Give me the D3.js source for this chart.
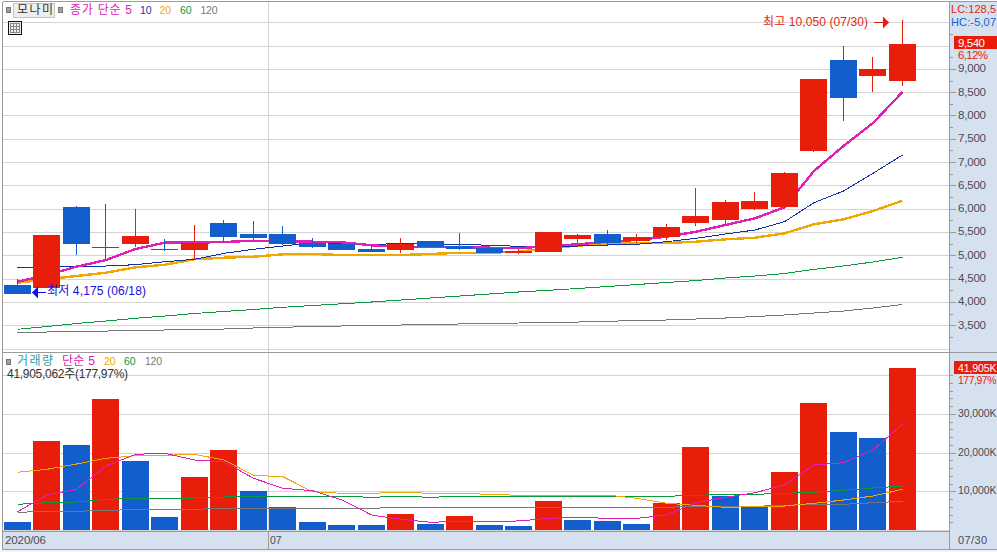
<!DOCTYPE html>
<html><head><meta charset="utf-8">
<script src="https://cdn.jsdelivr.net/npm/d3@7"></script>
<style>
html,body{margin:0;padding:0;background:#fff;overflow:hidden}
svg{display:block}
text{font-family:"Liberation Sans","Noto Sans CJK KR",sans-serif;font-size:12px}
</style></head><body><div id="c"></div>
<script>
const opens  =[4365,4310,6040,5175,5250,5130,5125,5695,5460,5460,5275,5250,5138,5116,5309,5208,5159,5052,5073,5352,5459,5309,5395,5695,5759,5995,6038,7239,9190,8847,8739];
const closes =[4175,5440,5250,5175,5415,5130,5265,5395,5375,5250,5185,5116,5073,5250,5180,5138,5052,5095,5502,5438,5266,5395,5609,5845,6145,6167,6767,8782,8375,8997,9540];
const highs  =[4495,5440,6060,6100,6000,5350,5650,5760,5740,5630,5375,5294,5223,5373,5309,5481,5223,5138,5502,5459,5545,5459,5674,6445,6188,6360,6788,8782,9490,9254,10050];
const lows   =[4175,4310,5015,4925,5190,5100,4900,5295,5330,5225,5160,5116,5073,5052,5180,5116,5052,5030,5073,5273,5223,5266,5331,5631,5652,5974,6017,7217,7888,8504,8632];
const ma5    =[4436,4580,4758,4902,5138,5273,5273,5288,5315,5309,5294,5281,5217,5180,5180,5180,5165,5153,5202,5238,5294,5331,5401,5508,5652,5796,6032,6810,7346,7839,8504];
const ma10   =[4745,4752,4758,4773,4801,4865,4917,5045,5131,5202,5273,5260,5230,5260,5238,5238,5217,5195,5174,5202,5223,5238,5294,5367,5459,5545,5723,6130,6381,6761,7153];
const ma20   =[4415,4488,4559,4629,4745,4801,4917,4951,4972,5024,5030,5009,5009,5009,5030,5058,5058,5080,5159,5208,5260,5266,5266,5294,5345,5380,5474,5667,5774,5952,6173];
const ma60   =[3416,3476,3540,3594,3652,3701,3755,3798,3840,3888,3926,3963,4001,4044,4087,4130,4173,4216,4252,4291,4334,4376,4419,4462,4516,4559,4612,4702,4773,4859,4960];
const ma120  =[3352,3358,3362,3379,3384,3401,3401,3422,3444,3459,3476,3487,3497,3508,3519,3530,3540,3551,3562,3572,3587,3605,3615,3637,3658,3690,3723,3765,3808,3873,3948];
const volume =[2070,23000,21960,33850,17830,3360,13700,20670,10080,5940,2070,1290,1290,4130,1550,3620,1290,1030,7490,2580,2330,1550,6900,21450,8790,6020,14990,32820,25320,23770,41905];
const volUp  =[0,1,0,1,0,0,1,1,0,0,0,0,0,1,0,1,0,0,1,0,0,0,1,1,0,0,1,1,0,0,1];
const vma5   =[4730,9040,10520,16540,19560,19820,18090,17650,13360,10780,10160,7750,3880,2760,1990,2250,2250,2330,3020,3280,3020,3020,3880,7050,8450,9640,11630,16800,17390,20670,27390];
const vma20  =[14910,15690,17050,18530,19200,19300,19560,18090,14130,13770,9900,9480,9480,9740,9480,9480,9220,8970,9040,9040,9040,8190,6900,6380,5870,6020,6200,6900,7750,8790,10520];
const vma60  =[6640,7050,7240,7930,8190,8190,8270,8530,8710,8710,8710,8710,8450,8710,8450,8710,8710,8710,8710,8710,8710,8710,8710,8970,9220,9220,9480,9740,10260,10850,11370];
const vma120 =[4570,4830,4830,5090,5250,5350,5350,5610,5610,5610,5610,5610,5610,5870,5870,5870,5870,5870,5870,5870,5870,5870,5870,6120,6120,6120,6380,6640,6640,7050,7420];
const priceTicks=[3500,4000,4500,5000,5500,6000,6500,7000,7500,8000,8500,9000];
const priceGrid=[3000,3500,4000,4500,5000,5500,6000,6500,7000,7500,8000,8500,9000,9500,10000];
const volTicks=[10000,20000,30000];
const volGrid=[0,10000,20000,30000,40000];

const RED="#E81E0A",BLUE="#125ECC",MAG="#E020B4",NAVY="#1030A8",ORG="#F0A800",GRN="#089A3C",GRY="#787878",FRAME="#9a9a9a",GRID="#d4d4d4",PANEL="#D6E1F0",TXT="#4a4a55";
const W=997,H=552,R=949.5;
const svg=d3.select("#c").append("svg").attr("width",W).attr("height",H);
const days=d3.range(opens.length);
const x=d3.scalePoint().domain(days).range([17.5,902.5]);
const y=d3.scaleLinear().domain([3000,10000]).range([348.7,22.2]);
const v=d3.scaleLinear().domain([0,40000]).range([530,375.2]);
const crisp=p=>Math.round(p)+.5;
const barLeft=i=>Math.floor(x(i)-13.5);

svg.append("rect").attr("width",W).attr("height",H).attr("fill","#fff");
svg.append("rect").attr("y",550).attr("width",W).attr("height",2).attr("fill","#f3f3f3");
svg.append("rect").attr("x",950).attr("y",1).attr("width",47).attr("height",549).attr("fill",PANEL);
svg.append("rect").attr("x",3).attr("y",531).attr("width",947).attr("height",18).attr("fill",PANEL);

const g=svg.append("g").attr("stroke",GRID).attr("shape-rendering","crispEdges");
priceGrid.forEach(t=>g.append("line").attr("x1",3).attr("x2",R).attr("y1",crisp(y(t))).attr("y2",crisp(y(t))));
volGrid.forEach(t=>g.append("line").attr("x1",3).attr("x2",R).attr("y1",crisp(v(t))).attr("y2",crisp(v(t))));
g.append("line").attr("x1",268.5).attr("x2",268.5).attr("y1",2).attr("y2",531);

const lineP=d3.line().x((d,i)=>x(i)).y(d=>y(d));
const lineV=d3.line().x((d,i)=>x(i)).y(d=>v(d));
const drawLine=(data,gen,c,w)=>svg.append("path").attr("d",gen(data)).attr("fill","none").attr("stroke",c).attr("stroke-width",w).attr("shape-rendering","crispEdges");
drawLine(ma120,lineP,GRY,1);drawLine(ma60,lineP,GRN,1);drawLine(ma20,lineP,ORG,2.4);drawLine(ma10,lineP,NAVY,1);drawLine(ma5,lineP,MAG,2.4);

const cg=svg.append("g").attr("shape-rendering","crispEdges");
days.forEach(i=>{
  const col=closes[i]>opens[i]?RED:BLUE;
  const l=barLeft(i),cx=l+13.5;
  cg.append("line").attr("x1",cx).attr("x2",cx).attr("y1",y(highs[i])).attr("y2",y(lows[i])).attr("stroke",col);
  const t=Math.round(y(Math.max(opens[i],closes[i]))),b=Math.round(y(Math.min(opens[i],closes[i])));
  cg.append("rect").attr("x",l).attr("y",t).attr("width",27).attr("height",Math.max(1,b-t)).attr("fill",col);
});

days.forEach(i=>{
  const t=Math.round(v(volume[i]));
  svg.append("rect").attr("x",barLeft(i)).attr("y",t).attr("width",27).attr("height",530-t).attr("fill",volUp[i]?RED:BLUE).attr("shape-rendering","crispEdges");
});
drawLine(vma120,lineV,GRY,1);drawLine(vma60,lineV,GRN,1);drawLine(vma20,lineV,ORG,1);drawLine(vma5,lineV,MAG,1);

const fr=svg.append("g").attr("stroke",FRAME).attr("shape-rendering","crispEdges");
[[2.5,1.5,2.5,549.5],[2.5,1.5,997,1.5],[2.5,352.5,997,352.5],[2.5,531.5,950,531.5],[2.5,549.5,997,549.5],[R,1.5,R,549.5],[268.5,531.5,268.5,549.5]]
 .forEach(a=>fr.append("line").attr("x1",a[0]).attr("y1",a[1]).attr("x2",a[2]).attr("y2",a[3]));

function axis(scale,majors,minors,fmt,len,size){
  const a=svg.append("g").attr("transform","translate(950,0)");
  a.call(d3.axisRight(scale).tickValues(minors).tickSize(3).tickFormat(""));
  a.select(".domain").remove();
  a.selectAll("line").attr("stroke",FRAME).attr("shape-rendering","crispEdges");
  const b=svg.append("g").attr("transform","translate(950,0)");
  b.call(d3.axisRight(scale).tickValues(majors).tickSize(6).tickPadding(2).tickFormat(fmt));
  b.select(".domain").remove();
  b.selectAll("line").attr("stroke",FRAME).attr("shape-rendering","crispEdges");
  b.selectAll("text").attr("fill",TXT).attr("dy","0.25em").attr("textLength",len).attr("lengthAdjust","spacing")
    .style("font-size",size+"px").style("font-family",'"Liberation Sans",sans-serif');
}
axis(y,priceTicks,d3.range(3250,10000,500),d3.format(","),28,11.5);
axis(v,volTicks,d3.range(2000,42000,2000),d=>d3.format(",")(d)+"K",38.5,10.5);

const label=(s,xp,yp,c,len,size)=>{
  const t=svg.append("text").attr("x",xp).attr("y",yp).attr("fill",c).attr("dominant-baseline","central").text(s);
  if(len) t.attr("textLength",len).attr("lengthAdjust","spacing");
  if(size) t.style("font-size",size+"px");
  return t;
};

const sq=(xp,yp)=>svg.append("rect").attr("x",xp+.5).attr("y",yp+.5).attr("width",4).attr("height",5).attr("fill","#a0a0a0").attr("stroke","#777").attr("shape-rendering","crispEdges");
sq(6,7);sq(58,7);
svg.append("rect").attr("x",13.5).attr("y",3.5).attr("width",41).attr("height",14).attr("fill","#eeeeee").attr("stroke","#c4c4c4").attr("shape-rendering","crispEdges");
label("모나미",17,10,"#333",36);
label("종가 단순 5",70,10,MAG,62);
label("10",140,10,"#1030B8",11.5,10.5);label("20",159.5,10,ORG,11.5,10.5);label("60",180,10,GRN,11.5,10.5);label("120",200.5,10,GRY,17,10.5);

const ic=svg.append("g").attr("shape-rendering","crispEdges").attr("fill","none");
ic.append("rect").attr("x",8.5).attr("y",21.5).attr("width",13).attr("height",13).attr("stroke","#111").attr("fill","#eee");
ic.append("rect").attr("x",10.5).attr("y",23.5).attr("width",9).attr("height",9).attr("stroke","#888");
[13.5,16.5].forEach(p=>ic.append("line").attr("x1",p).attr("x2",p).attr("y1",24).attr("y2",32).attr("stroke","#888"));
[26.5,29.5].forEach(p=>ic.append("line").attr("y1",p).attr("y2",p).attr("x1",11).attr("x2",19).attr("stroke","#888"));

sq(6,359);
label("거래량",17,361,"#2E9E9E",36);
label("단순 5",62,361,MAG,33);
label("20",104,361,ORG,11.5,10.5);label("60",124,361,GRN,11.5,10.5);label("120",145,361,GRY,17,10.5);
label("41,905,062주(177,97%)",7,374,"#333",121);

label("최고 10,050 (07/30)",763,22,RED,105);
label("최저 4,175 (06/18)",47,291,"#1010E0",99);
const arrow=(x1,x2,yp,c)=>{
  svg.append("line").attr("x1",x1).attr("x2",x2).attr("y1",yp).attr("y2",yp).attr("stroke",c).attr("shape-rendering","crispEdges");
  const d=x2>x1?1:-1;
  svg.append("path").attr("d",`M${x2},${yp}L${x2-6*d},${yp-6}L${x2-6*d},${yp+6}Z`).attr("fill",c);
};
arrow(874,889,22.5,RED);
arrow(46,32,292.5,"#1010E0");

label("LC:128,5",951,8.5,RED,45,11);
label("HC:-5,07",951,21.5,"#1060D0",45,11);
svg.append("rect").attr("x",954).attr("y",36).attr("width",43).attr("height",13).attr("fill",RED);
label("9,540",958,42.5,"#fff",27,11.5);
label("6,12%",958,55,RED,30,11.5);
svg.append("rect").attr("x",954).attr("y",361).attr("width",43).attr("height",13).attr("fill",RED);
label("41,905K",958,367.5,"#fff",38.5,10.5);
label("177,97%",958,380,RED,38.5,10.5);

label("2020/06",5,540,TXT,41,11.5);
label("07",270,540,TXT,11.5,10.5);
label("07/30",958,540,TXT,29,11);
</script></body></html>
